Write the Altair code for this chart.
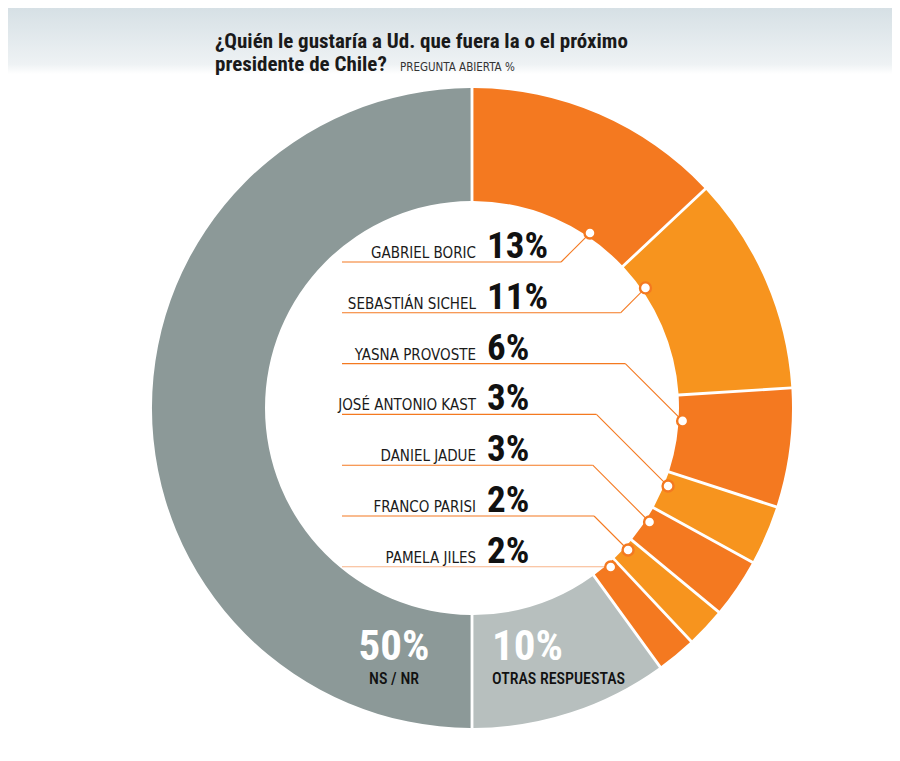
import altair as alt
import pandas as pd
import math

# ---- data ----
names = ["GABRIEL BORIC", "SEBASTIÁN SICHEL", "YASNA PROVOSTE", "JOSÉ ANTONIO KAST",
         "DANIEL JADUE", "FRANCO PARISI", "PAMELA JILES", "OTRAS RESPUESTAS", "NS / NR"]
values = [13, 11, 6, 3, 3, 2, 2, 10, 50]
colors = ["#F47920", "#F7941E", "#F47920", "#F7941E", "#F47920", "#F7941E", "#F47920",
          "#B7BFBE", "#8C9998"]
# angle (deg, clockwise from top) where each candidate's leader line meets the ring
dot_angle = [34, 55.3, 93.5, 111.7, 122.7, 132.3, 138.9]
line_colors = ["#F47920"] * 6 + ["#F8B58A"]

title_1 = "¿Quién le gustaría a Ud. que fuera la o el próximo"
title_2 = "presidente de Chile?"
subtitle = "PREGUNTA ABIERTA %"

# ---- layout ----
W, H = 884, 745
CX, CY = 472, 408          # page coords of ring centre
R_OUT, R_IN, R_DOT = 320, 207, 211
ROW0, ROW_STEP = 262, 50.8
LINE_X0 = 342
NAME_X, PCT_X = 476, 487
FONT = "DejaVu Sans Condensed, Roboto, sans-serif"
NUM_FONT = "Roboto Condensed, Roboto, sans-serif"

xs = alt.Scale(domain=[8, 8 + W], range=[0, W], nice=False, zero=False)
ys = alt.Scale(domain=[8, 8 + H], range=[0, H], nice=False, zero=False)

ring = pd.DataFrame({"name": names, "value": values, "order": list(range(len(names)))})

arc = alt.Chart(ring).mark_arc(innerRadius=R_IN, outerRadius=R_OUT, padAngle=0.0075).encode(
    theta=alt.Theta("value:Q", stack=True),
    order=alt.Order("order:Q"),
    color=alt.Color("name:N", scale=alt.Scale(domain=names, range=colors), legend=None),
    x=alt.value(CX - 8), y=alt.value(CY - 8),
)

rows = []
for i in range(7):
    ly = ROW0 + i * ROW_STEP
    a = math.radians(dot_angle[i])
    dx = CX + R_DOT * math.sin(a)
    dy = CY - R_DOT * math.cos(a)
    bx = dx - abs(dy - ly)
    rows.append({"name": names[i], "pct": f"{values[i]}%", "ly": ly, "ty": ly - 4,
                 "bx": bx, "dx": dx, "dy": dy, "x0": LINE_X0, "lc": line_colors[i]})
lead = pd.DataFrame(rows)

h_rule = alt.Chart(lead).mark_rule(strokeWidth=1.1).encode(
    x=alt.X("x0:Q", scale=xs, axis=None), x2="bx:Q",
    y=alt.Y("ly:Q", scale=ys, axis=None), y2="ly:Q",
    color=alt.Color("lc:N", scale=None),
)
d_rule = alt.Chart(lead).mark_rule(strokeWidth=1.1).encode(
    x=alt.X("bx:Q", scale=xs, axis=None), x2="dx:Q",
    y=alt.Y("ly:Q", scale=ys, axis=None), y2="dy:Q",
    color=alt.Color("lc:N", scale=None),
)
dots = alt.Chart(lead).mark_point(shape="circle", filled=True, fill="white", stroke="#F47920",
                                  strokeWidth=2.4, size=120, opacity=1).encode(
    x=alt.X("dx:Q", scale=xs, axis=None),
    y=alt.Y("dy:Q", scale=ys, axis=None),
)
name_txt = alt.Chart(lead).mark_text(align="right", baseline="alphabetic", font=FONT,
                                     fontSize=15, color="#1a1a1a").encode(
    x=alt.value(NAME_X - 8),
    y=alt.Y("ty:Q", scale=ys, axis=None),
    text="name:N",
)
pct_txt = alt.Chart(lead).mark_text(align="left", baseline="alphabetic", font=NUM_FONT,
                                    fontSize=37, fontWeight="bold", color="#111111").encode(
    x=alt.value(PCT_X - 8),
    y=alt.Y("ty:Q", scale=ys, axis=None),
    text="pct:N",
)

bottom = pd.DataFrame({
    "pct": [f"{values[8]}%", f"{values[7]}%"],
    "label": [names[8], names[7]],
    "x": [394, 492],
})
b_pct_c = alt.Chart(bottom.iloc[[0]]).mark_text(align="center", baseline="alphabetic", font=NUM_FONT,
                                                fontSize=43, fontWeight="bold", color="white").encode(
    x=alt.X("x:Q", scale=xs, axis=None), y=alt.value(660 - 8), text="pct:N")
b_lab_c = alt.Chart(bottom.iloc[[0]]).mark_text(align="center", baseline="alphabetic", font=NUM_FONT,
                                                fontSize=16, fontWeight=500, color="#111111").encode(
    x=alt.X("x:Q", scale=xs, axis=None), y=alt.value(684 - 8), text="label:N")
b_pct_l = alt.Chart(bottom.iloc[[1]]).mark_text(align="left", baseline="alphabetic", font=NUM_FONT,
                                                fontSize=43, fontWeight="bold", color="white").encode(
    x=alt.X("x:Q", scale=xs, axis=None), y=alt.value(660 - 8), text="pct:N")
b_lab_l = alt.Chart(bottom.iloc[[1]]).mark_text(align="left", baseline="alphabetic", font=NUM_FONT,
                                                fontSize=16, fontWeight=500, color="#111111").encode(
    x=alt.X("x:Q", scale=xs, axis=None), y=alt.value(684 - 8), text="label:N")

bg = alt.Chart(pd.DataFrame({"a": [0]})).mark_rect(
    fill=alt.Gradient(gradient="linear", x1=0, y1=0, x2=0, y2=1,
                      stops=[alt.GradientStop(color="#D6E0E5", offset=0),
                             alt.GradientStop(color="#EEF2F4", offset=0.85),
                             alt.GradientStop(color="#FFFFFF", offset=1)])
).encode(x=alt.value(0), x2=alt.value(W), y=alt.value(0), y2=alt.value(66))

titles = pd.DataFrame({"t": [title_1, title_2], "y": [48, 71]})
title_txt = alt.Chart(titles).mark_text(align="left", baseline="alphabetic", font=NUM_FONT,
                                        fontSize=21, fontWeight="bold", color="#1a1a1a").encode(
    x=alt.value(215 - 8), y=alt.Y("y:Q", scale=ys, axis=None), text="t:N")
sub_txt = alt.Chart(pd.DataFrame({"t": [subtitle], "y": [71]})).mark_text(
    align="left", baseline="alphabetic", font=FONT, fontSize=11.5, color="#333333").encode(
    x=alt.value(400 - 8), y=alt.Y("y:Q", scale=ys, axis=None), text="t:N")

chart = alt.layer(
    bg, arc, h_rule, d_rule, dots, name_txt, pct_txt,
    b_pct_c, b_lab_c, b_pct_l, b_lab_l, title_txt, sub_txt
).properties(
    width=W, height=H, autosize=alt.AutoSizeParams(type="none"), padding=0,
    background="white",
).configure_view(stroke=None)

chart.save("out.html", embed_options={"renderer": "svg", "actions": False})
